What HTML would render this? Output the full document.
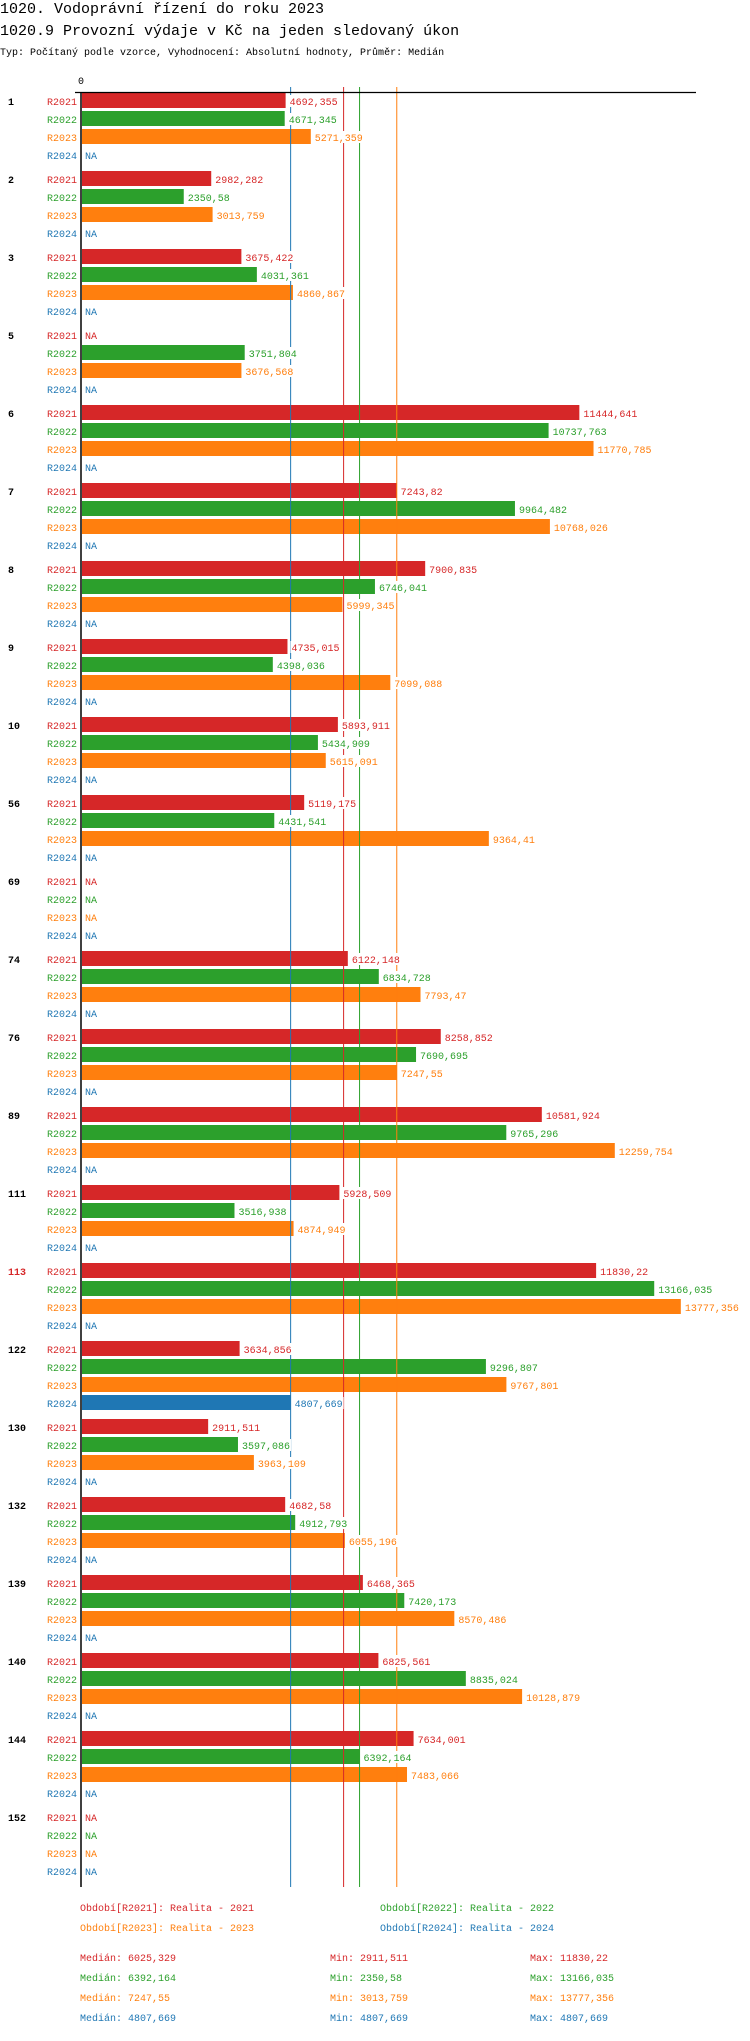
<!DOCTYPE html>
<html><head><meta charset="utf-8">
<style>
html,body{margin:0;padding:0;background:#fff;}
body{width:750px;height:2036px;overflow:hidden;position:relative;font-family:"Liberation Mono",monospace;}
svg text{font-family:"Liberation Mono","DejaVu Sans Mono",monospace;}
</style></head>
<body>
<svg id="chart" width="750" height="2036" viewBox="0 0 750 2036" xmlns="http://www.w3.org/2000/svg">
<text x="0" y="13" font-size="15" fill="#000">1020. Vodoprávní řízení do roku 2023</text>
<text x="0" y="35" font-size="15" fill="#000">1020.9 Provozní výdaje v Kč na jeden sledovaný úkon</text>
<text x="0" y="55" font-size="10" fill="#000">Typ: Počítaný podle vzorce, Vyhodnocení: Absolutní hodnoty, Průměr: Medián</text>
<text x="81" y="84" font-size="10" text-anchor="middle" fill="#000">0</text>
<g id="bars"></g>
<g id="medians"></g>
<g id="labels"></g>
<line x1="75" y1="92.5" x2="696" y2="92.5" stroke="#000" stroke-width="1.3"/>
<line x1="81" y1="92" x2="81" y2="1887" stroke="#000" stroke-width="1.5"/>
<g id="legend" font-size="10">
<text x="80" y="1911" fill="#d62728">Období[R2021]: Realita - 2021</text>
<text x="380" y="1911" fill="#2ca02c">Období[R2022]: Realita - 2022</text>
<text x="80" y="1931" fill="#ff7f0e">Období[R2023]: Realita - 2023</text>
<text x="380" y="1931" fill="#1f77b4">Období[R2024]: Realita - 2024</text>
</g>
<g id="stats" font-size="10"></g>
</svg>
<script>
const categories = ["1","2","3","5","6","7","8","9","10","56","69","74","76","89","111","113","122","130","132","139","140","144","152"];
const seriesNames = ["R2021","R2022","R2023","R2024"];
const r2021 = [4692.355,2982.282,3675.422,null,11444.641,7243.82,7900.835,4735.015,5893.911,5119.175,null,6122.148,8258.852,10581.924,5928.509,11830.22,3634.856,2911.511,4682.58,6468.365,6825.561,7634.001,null];
const r2022 = [4671.345,2350.58,4031.361,3751.804,10737.763,9964.482,6746.041,4398.036,5434.909,4431.541,null,6834.728,7690.695,9765.296,3516.938,13166.035,9296.807,3597.086,4912.793,7420.173,8835.024,6392.164,null];
const r2023 = [5271.359,3013.759,4860.867,3676.568,11770.785,10768.026,5999.345,7099.088,5615.091,9364.41,null,7793.47,7247.55,12259.754,4874.949,13777.356,9767.801,3963.109,6055.196,8570.486,10128.879,7483.066,null];
const r2024 = [null,null,null,null,null,null,null,null,null,null,null,null,null,null,null,null,4807.669,null,null,null,null,null,null];
const medians = [6025.329,6392.164,7247.55,4807.669];
const mins = [2911.511,2350.58,3013.759,4807.669];
const maxs = [11830.22,13166.035,13777.356,4807.669];
const highlighted = ["113"];

const colors = ["#d62728","#2ca02c","#ff7f0e","#1f77b4"];
const series = [r2021,r2022,r2023,r2024];
const NS = "http://www.w3.org/2000/svg";
const x = v => 81.5 + v * 0.0435;
const yRow = (g, s) => 101 + g * 78 + s * 18;
const fmt = v => String(v).replace(".", ",");
function mk(tag, attrs, parent, txt){const e=document.createElementNS(NS,tag);for(const k in attrs)e.setAttribute(k,attrs[k]);if(txt!==undefined)e.textContent=txt;parent.appendChild(e);return e;}
const gb=document.getElementById("bars"), gm=document.getElementById("medians"), gl=document.getElementById("labels");
categories.forEach((c,gi)=>{
  const hl = highlighted.includes(c);
  const t = mk("text",{x:8,y:yRow(gi,0)+4,"font-size":10,"font-weight":"bold",fill:hl?"#d62728":"#000"},gl,c);
  
  
  seriesNames.forEach((sn,si)=>{
    const yc = yRow(gi,si), v = series[si][gi];
    const sl = mk("text",{x:77,y:yc+4,"font-size":10,"text-anchor":"end",fill:colors[si]},gl,sn);
    
    
    if(v!==null){
      const r = mk("rect",{x:82,y:yc-8,width:x(v)-82,height:15,fill:colors[si]},gb);
      
      
    }
    const lx = v!==null ? x(v)+3 : 84;
    const s = fmt(v===null?"NA":v);
    const bg = mk("rect",{x:lx,y:yc-6,width:s.length*6+2,height:12,fill:"#fff"},gl);
    
    
    const vl = mk("text",{x:lx+1,y:yc+4,"font-size":10,fill:colors[si]},gl,s);
    
    
  });
});
medians.forEach((m,si)=>{
  const l = mk("line",{x1:x(m),x2:x(m),y1:87,y2:1887,stroke:colors[si],"stroke-width":1},gm);
  
  
});
const gs=document.getElementById("stats");
seriesNames.forEach((sn,si)=>{
  const y = 1961 + si*20;
  const a = mk("text",{x:80,y:y,fill:colors[si]},gs,"Medián: "+fmt(medians[si]));
  
  
  const b = mk("text",{x:330,y:y,fill:colors[si]},gs,"Min: "+fmt(mins[si]));
  
  
  const d = mk("text",{x:530,y:y,fill:colors[si]},gs,"Max: "+fmt(maxs[si]));
  
  
});
</script>
</body></html>
